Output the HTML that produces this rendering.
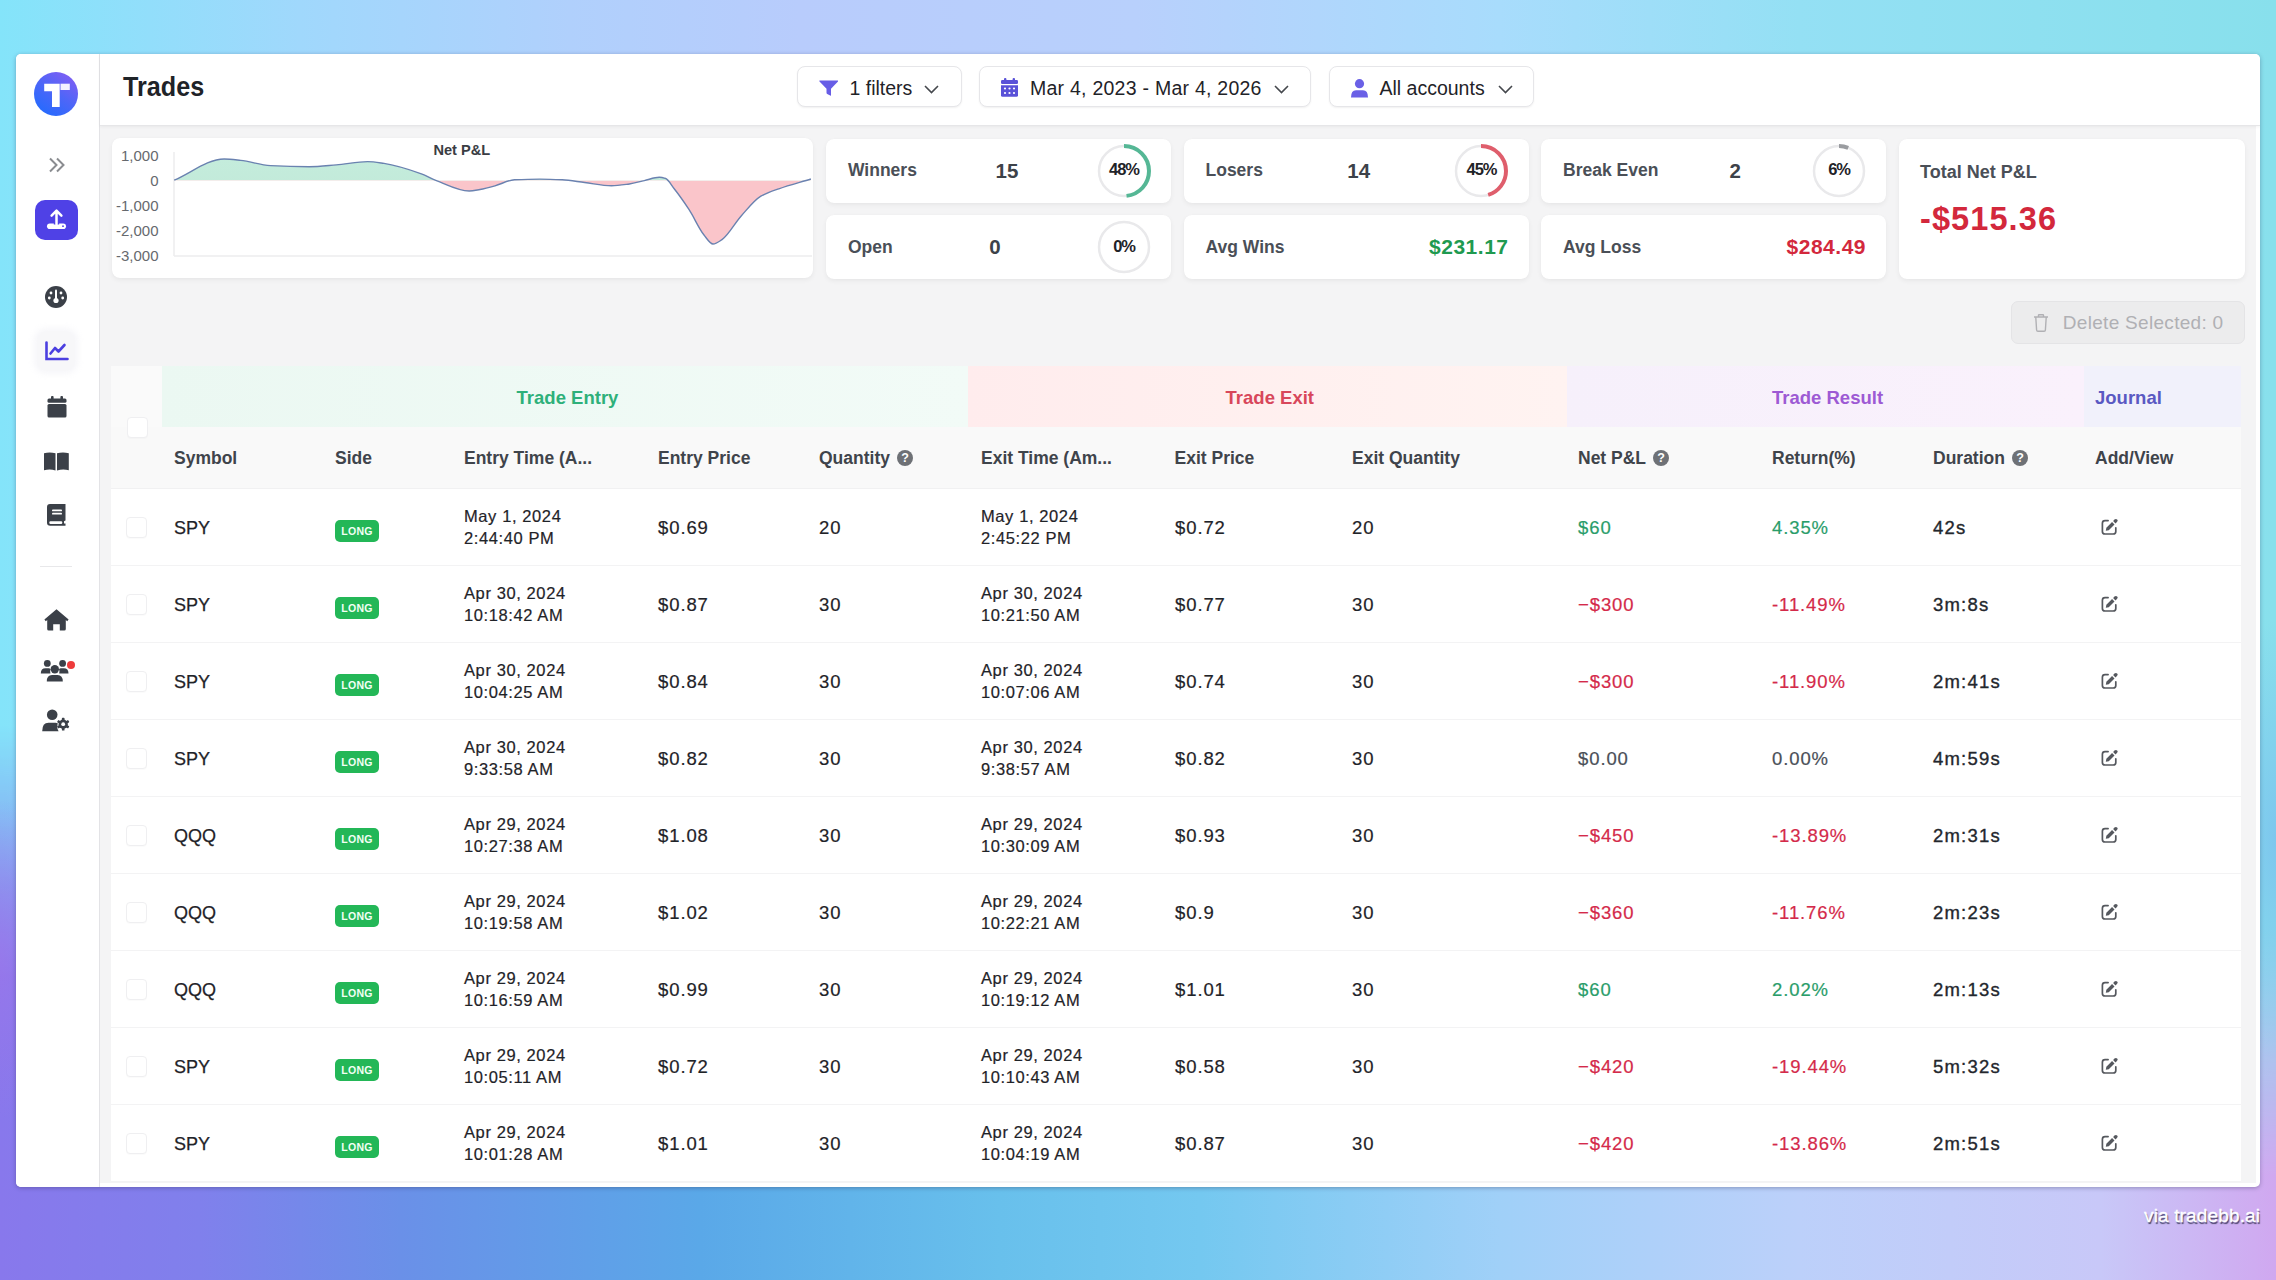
<!DOCTYPE html>
<html><head><meta charset="utf-8">
<style>
*{box-sizing:border-box;margin:0;padding:0}
html,body{width:2276px;height:1280px;overflow:hidden}
body{font-family:"Liberation Sans",sans-serif;color:#1f2328;position:relative;
background:linear-gradient(90deg,#84e4fa 0px,#a0d8fc 300px,#b0d0fc 570px,#b8ccfc 800px,#b8d0fc 1136px,#a8dcfc 1500px,#94e0f4 1800px,#88e0ec 2276px);}
#bg2{position:absolute;left:0;top:0;width:2276px;height:1280px;
background:linear-gradient(90deg,#8878ec 0px,#8080ec 200px,#6a90e8 400px,#5aa8e8 700px,#68c0ec 1000px,#74c8f0 1200px,#a0d0f8 1500px,#bcd0fa 1800px,#c8c8f8 2100px,#d0a8f0 2276px);
-webkit-mask-image:linear-gradient(185deg,rgba(0,0,0,0) 0%,rgba(0,0,0,0) 62.5%,rgba(0,0,0,1) 79.5%);}
#bg3{position:absolute;left:0;top:0;width:2276px;height:1280px;background:radial-gradient(ellipse 60px 220px at 2276px 840px,rgba(124,196,238,.9),rgba(124,196,238,0)),radial-gradient(ellipse 60px 160px at 0px 960px,rgba(156,118,234,.7),rgba(156,118,234,0));}
#win{position:absolute;left:16px;top:54px;width:2244px;height:1133px;background:#fff;border-radius:5px;overflow:hidden;
 box-shadow:0 1px 4px rgba(40,40,80,.35)}
#pg{position:absolute;left:-16px;top:-54px;width:2276px;height:1280px}
.a{position:absolute}
.card{position:absolute;background:#fff;border-radius:8px;box-shadow:0 2px 5px rgba(0,0,0,.055),0 0 1px rgba(0,0,0,.04)}
.c{position:absolute;transform:translateY(-50%);white-space:nowrap}
.sym{font-size:18px;line-height:22px;color:#1f2328;-webkit-text-stroke:.25px currentColor}
.dt{font-size:16.5px;line-height:22px;color:#1f2328;letter-spacing:.6px;-webkit-text-stroke:.2px currentColor}
.num{font-size:18.5px;line-height:22px;color:#1f2328;letter-spacing:.9px;-webkit-text-stroke:.2px currentColor}
.dur{color:#23272d;letter-spacing:1.2px;-webkit-text-stroke:.35px currentColor}
.cb{position:absolute;width:21px;height:21px;border:1px solid #efeff1;border-radius:4px;background:#fff;box-shadow:0 1px 1px rgba(0,0,0,.02)}
.long{position:absolute;width:44px;height:22px;border-radius:5px;background:#23b757;color:#f2fff4;font-size:10.5px;font-weight:bold;text-align:center;line-height:22px;letter-spacing:.3px}
.ed{position:absolute;width:17px;height:17px}
.rw{position:absolute;left:111px;width:2130px;height:77px;background:#fff;border-bottom:1px solid #f3f3f4}
.hb{position:absolute;height:41px;top:66px;border:1px solid #e6e6e9;border-radius:8px;background:#fff;box-shadow:0 1px 2px rgba(0,0,0,.06)}
.ht{position:absolute;transform:translateY(-50%);font-size:19.5px;white-space:nowrap;color:#1f2328;top:88.2px}
.lbl{position:absolute;transform:translateY(-50%);font-size:17.5px;font-weight:bold;color:#4a4f57;white-space:nowrap}
.val{position:absolute;transform:translateY(-50%);font-size:20.5px;font-weight:bold;color:#3d4249;white-space:nowrap}
.ring{position:absolute;width:54px;height:54px}
.ring span{position:absolute;left:0;right:0;top:50%;margin-top:-1.3px;transform:translateY(-50%);text-align:center;font-size:16.5px;font-weight:bold;color:#1f2328;letter-spacing:-1.1px}
.th{position:absolute;transform:translateY(-50%);font-size:17.5px;line-height:22px;font-weight:bold;color:#3f444b;white-space:nowrap;top:458.3px}
.gh{position:absolute;transform:translateY(-50%);font-size:18.5px;font-weight:bold;white-space:nowrap;top:397.5px}
.q{display:inline-block;width:16px;height:16px;border-radius:50%;background:#6e7176;color:#fff;font-size:12.5px;line-height:16px;text-align:center;vertical-align:2px;margin-left:7px;font-weight:bold}
svg{display:block}
.sc{width:345px;height:64px;display:flex;align-items:center;justify-content:space-between;padding:0 20px 0 22px}
.sc .lbl,.sc .val{position:static;transform:none}
.sc .ring{position:relative}
.big{font-size:21px;letter-spacing:.5px}
</style></head>
<body>
<div id="bg2"></div><div id="bg3"></div>
<div id="win"><div id="pg">
<!-- ================= SIDEBAR ================= -->
<div class="a" style="left:16px;top:54px;width:84px;height:1133px;background:#fff;border-right:1px solid #e3e3e6"></div>
<!-- logo -->
<div class="a" style="left:34px;top:71.5px;width:44px;height:44px;border-radius:50%;background:linear-gradient(35deg,#1a6cff 0%,#4c66f8 50%,#8c5cf2 100%)"></div>
<svg class="a" style="left:34px;top:71.5px" width="44" height="44" viewBox="0 0 44 44">
 <path d="M10.2 11.7H25.7V35.1H18V19.3H10.2z" fill="#fff"/>
 <rect x="26.5" y="11.7" width="9.3" height="6.3" fill="#f4f2ff"/>
</svg>
<!-- chevrons >> -->
<svg class="a" style="left:48px;top:157px" width="18" height="16" viewBox="0 0 18 16">
 <path d="M2 1.5l6.5 6.5L2 14.5M9 1.5l6.5 6.5L9 14.5" fill="none" stroke="#8a8c90" stroke-width="2"/>
</svg>
<!-- upload button -->
<div class="a" style="left:35px;top:200px;width:43px;height:40px;border-radius:10px;background:#4f41e6"></div>
<svg class="a" style="left:35px;top:200px" width="43" height="40" viewBox="0 0 43 40">
 <rect x="12" y="23.5" width="19" height="5.6" rx="2.8" fill="#fff"/>
 <path d="M21.5 17V24.6" stroke="#4f41e6" stroke-width="5.4"/>
 <path d="M16.6 15.6L21.5 10.7L26.4 15.6M21.5 11.2V24.3" fill="none" stroke="#fff" stroke-width="2.5" stroke-linecap="round" stroke-linejoin="round"/>
 <circle cx="28" cy="26.2" r="0.9" fill="#4f41e6"/>
</svg>
<!-- gauge -->
<svg class="a" style="left:45px;top:286px" width="22" height="22" viewBox="0 0 22 22">
 <circle cx="11" cy="11" r="11" fill="#3b4048"/>
 <circle cx="6" cy="7" r="1.4" fill="#fff"/><circle cx="16" cy="7" r="1.4" fill="#fff"/>
 <circle cx="4.3" cy="12" r="1.4" fill="#fff"/><circle cx="17.7" cy="12" r="1.4" fill="#fff"/>
 <rect x="10" y="3.5" width="2" height="10" rx="1" fill="#fff"/>
 <circle cx="11" cy="14.5" r="2.6" fill="#fff"/>
</svg>
<!-- chart active -->
<div class="a" style="left:37px;top:331px;width:38px;height:40px;border-radius:10px;background:#f7f7f9;box-shadow:0 0 6px 3px rgba(245,245,248,.9)"></div>
<svg class="a" style="left:44px;top:341px" width="25" height="20" viewBox="0 0 25 20">
 <path d="M2.5 1.5v16.5h21" fill="none" stroke="#4b3fe0" stroke-width="2.6" stroke-linecap="round"/>
 <path d="M6.5 12.5l4.5-5.5 3.5 3.5 6-6.5" fill="none" stroke="#4b3fe0" stroke-width="2.6" stroke-linecap="round" stroke-linejoin="round"/>
</svg>
<!-- calendar -->
<svg class="a" style="left:46.5px;top:395.5px" width="20" height="22" viewBox="0 0 20 22">
 <rect x="4" y="0" width="2.6" height="4" rx="1" fill="#3b4048"/><rect x="13.4" y="0" width="2.6" height="4" rx="1" fill="#3b4048"/>
 <rect x="0.5" y="2.5" width="19" height="4.2" rx="1.5" fill="#3b4048"/>
 <rect x="0.5" y="8" width="19" height="13.5" rx="1.5" fill="#3b4048"/>
</svg>
<!-- book open -->
<svg class="a" style="left:44px;top:451.5px" width="25" height="19" viewBox="0 0 25 19">
 <path d="M0 1.2Q5.5 -0.4 11.5 1.2V18.5Q6 16.5 0 18.3z" fill="#3b4048"/>
 <path d="M13 1.2Q19 -0.4 24.8 1.2V18.3Q19 16.5 13 18.5z" fill="#3b4048"/>
</svg>
<!-- book -->
<svg class="a" style="left:47px;top:504px" width="19" height="22" viewBox="0 0 19 22">
 <path d="M3 0H18.5V16.5L17 17.2V19.5H18.5V21.8H3.2Q0 21.8 0 18.6V3Q0 0 3 0z" fill="#3b4048"/>
 <rect x="5" y="5.5" width="10" height="1.8" rx=".9" fill="#fff"/>
 <rect x="5" y="8.8" width="10" height="1.8" rx=".9" fill="#fff"/>
 <rect x="2.3" y="17.3" width="13" height="2.6" rx="1.2" fill="#fff"/>
</svg>
<!-- divider -->
<div class="a" style="left:40px;top:566px;width:32px;height:1px;background:#e8e8ea"></div>
<!-- house -->
<svg class="a" style="left:44px;top:609px" width="25" height="22" viewBox="0 0 25 22">
 <path d="M12.5 0.3L24.6 10.6 23.2 12.2 21.8 11V20Q21.8 21.5 20.3 21.5H15.8V15.2H9.2V21.5H4.7Q3.2 21.5 3.2 20V11L1.8 12.2 0.4 10.6z" fill="#3b4048"/>
</svg>
<!-- users -->
<svg class="a" style="left:40px;top:658px" width="30" height="24" viewBox="0 0 30 24">
 <circle cx="7.3" cy="5.4" r="3.4" fill="#3b4048"/>
 <circle cx="22.6" cy="5.4" r="3.4" fill="#3b4048"/>
 <circle cx="14.8" cy="11.2" r="4.2" fill="#3b4048"/>
 <path d="M0.8 15.5Q0.8 10.2 5.5 10.2H8.8Q10 10.2 10.6 11.2 9.6 13.5 10.4 15.5z" fill="#3b4048"/>
 <path d="M28.5 15.5Q28.5 10.2 23.8 10.2H20.8Q19.6 10.2 19 11.2 20 13.5 19.2 15.5z" fill="#3b4048"/>
 <path d="M6.8 23.5Q6.8 17 12 17H17.6Q22.8 17 22.8 23.5z" fill="#3b4048"/>
</svg>
<div class="a" style="left:67px;top:660.5px;width:8px;height:8px;border-radius:50%;background:#ee3b3b"></div>
<!-- user gear -->
<svg class="a" style="left:41px;top:708px" width="29" height="24" viewBox="0 0 29 24">
 <circle cx="11.2" cy="6.8" r="5.3" fill="#3b4048"/>
 <path d="M1.2 23.2Q1.2 14.8 7.5 14.8H14.5Q15.8 14.8 16.8 15.2 15.5 19.8 17.6 23.2z" fill="#3b4048"/>
 <g transform="translate(22.2,16.2)">
  <circle r="4.6" fill="#3b4048"/>
  <g fill="#3b4048">
   <rect x="-1.3" y="-6.4" width="2.6" height="12.8" rx=".6"/>
   <rect x="-1.3" y="-6.4" width="2.6" height="12.8" rx=".6" transform="rotate(60)"/>
   <rect x="-1.3" y="-6.4" width="2.6" height="12.8" rx=".6" transform="rotate(120)"/>
  </g>
  <circle r="1.9" fill="#fff"/>
 </g>
</svg>

<div class="a" style="left:100px;top:126px;width:2156px;height:1056.5px;background:#f4f4f5"></div>
<!-- ================= HEADER ================= -->
<div class="a" style="left:100px;top:54px;width:2160px;height:72px;background:#fff;border-bottom:1px solid #e6e6e8;box-shadow:0 1px 3px rgba(0,0,0,.05)"></div>
<div class="c" style="left:122.5px;top:87px;font-size:27.5px;font-weight:bold;color:#1f2328;line-height:34px;transform:translateY(-50%) scaleX(.915);transform-origin:0 50%">Trades</div>

<div class="hb" style="left:796.5px;width:165px"></div>
<svg class="a" style="left:818.5px;top:79.8px" width="19.5" height="16" viewBox="0 0 19.5 16">
 <path d="M0.8 0.5H18.7Q19.6 0.5 19 1.5L12 8.8V15.2Q12 16 11.2 15.6L8.2 14Q7.5 13.6 7.5 12.8V8.8L0.5 1.5Q-0.1 0.5 0.8 0.5z" fill="#675de6"/>
</svg>
<div class="ht" style="left:849.5px">1 filters</div>
<svg class="a" style="left:924px;top:85px" width="15" height="9" viewBox="0 0 15 9"><path d="M1 1l6.5 6.5L14 1" fill="none" stroke="#45484d" stroke-width="1.6"/></svg>

<div class="hb" style="left:979px;width:332px"></div>
<svg class="a" style="left:1000.8px;top:78.4px" width="17" height="19" viewBox="0 0 17 19">
 <rect x="3" y="0" width="2.4" height="3.5" rx="1" fill="#5a52d8"/><rect x="11.6" y="0" width="2.4" height="3.5" rx="1" fill="#5a52d8"/>
 <rect x="0" y="2" width="17" height="4" rx="1.3" fill="#5a52d8"/>
 <path d="M0 7.3H17V17.2Q17 18.8 15.4 18.8H1.6Q0 18.8 0 17.2z" fill="#5a52d8"/>
 <g fill="#fff"><circle cx="4" cy="10.5" r="1.1"/><circle cx="8.5" cy="10.5" r="1.1"/><circle cx="13" cy="10.5" r="1.1"/>
 <circle cx="4" cy="15" r="1.1"/><circle cx="8.5" cy="15" r="1.1"/><circle cx="13" cy="15" r="1.1"/></g>
</svg>
<div class="ht" style="left:1030px;letter-spacing:.25px">Mar 4, 2023 - Mar 4, 2026</div>
<svg class="a" style="left:1273.5px;top:85px" width="15" height="9" viewBox="0 0 15 9"><path d="M1 1l6.5 6.5L14 1" fill="none" stroke="#45484d" stroke-width="1.6"/></svg>

<div class="hb" style="left:1329px;width:204.5px"></div>
<svg class="a" style="left:1350.5px;top:78.8px" width="17" height="19" viewBox="0 0 17 19">
 <circle cx="8.5" cy="4.7" r="4.6" fill="#6a60e6"/>
 <path d="M0 18.5Q0 11.2 5 11.2H12Q17 11.2 17 18.5z" fill="#6a60e6"/>
</svg>
<div class="ht" style="left:1379.5px">All accounts</div>
<svg class="a" style="left:1497.5px;top:85px" width="15" height="9" viewBox="0 0 15 9"><path d="M1 1l6.5 6.5L14 1" fill="none" stroke="#45484d" stroke-width="1.6"/></svg>

<!-- ================= MAIN ================= -->
<!-- chart card -->
<div class="card" style="left:112px;top:138px;width:701px;height:140px"></div>
<div class="a" style="left:100px;top:0;width:58.5px;text-align:right;font-size:15px;color:#66696e">
 <div class="c" style="right:0;top:155px">1,000</div>
 <div class="c" style="right:0;top:180px">0</div>
 <div class="c" style="right:0;top:205px">-1,000</div>
 <div class="c" style="right:0;top:230px">-2,000</div>
 <div class="c" style="right:0;top:255px">-3,000</div>
</div>
<svg class="a" style="left:0;top:0" width="2276" height="300" viewBox="0 0 2276 300">
 <defs>
  <clipPath id="cpos"><rect x="170" y="140" width="650" height="40.400000000000006"/></clipPath>
  <clipPath id="cneg"><rect x="170" y="180.4" width="650" height="100"/></clipPath>
  <linearGradient id="gpos" x1="0" y1="0" x2="0" y2="1"><stop offset="0" stop-color="#c4ecdc"/><stop offset="1" stop-color="#bfe6d4"/></linearGradient>
 </defs>
 <line x1="174" y1="152" x2="174" y2="256" stroke="#ececee" stroke-width="1.5"/>
 <line x1="174" y1="256" x2="812" y2="256" stroke="#ececee" stroke-width="1.5"/>
 <path d="M174.2 180.2 C190.9 173.1 207.5 159.0 224.2 159.0 C229.7 159.0 235.2 159.8 240.7 160.4 C250.6 161.5 260.6 165.1 270.5 165.6 C283.5 166.3 296.4 166.7 309.4 166.7 C318.4 166.7 327.3 165.6 336.3 164.9 C346.7 164.1 357.2 161.6 367.6 161.6 C373.1 161.6 378.5 162.6 384.0 163.4 C396.5 165.3 408.9 169.4 421.4 173.8 C426.4 175.6 431.4 178.7 436.4 180.6 C447.3 184.8 458.3 191.0 469.2 191.0 C472.8 191.0 476.4 190.1 480.0 189.5 C485.0 188.6 490.0 187.2 495.0 185.8 C501.5 184.0 507.9 180.1 514.4 179.8 C522.9 179.4 531.3 179.1 539.8 179.1 C547.3 179.1 554.7 179.4 562.2 179.8 C569.7 180.2 577.1 181.6 584.6 182.5 C593.6 183.6 602.5 185.8 611.5 185.8 C617.5 185.8 623.4 184.8 629.4 184.0 C634.4 183.3 639.3 181.7 644.3 180.6 C649.3 179.5 654.3 177.3 659.3 177.3 C661.3 177.3 663.2 177.7 665.2 178.3 C668.2 179.1 671.2 185.0 674.2 188.8 C679.2 195.1 684.1 202.1 689.1 209.7 C694.1 217.3 699.0 228.9 704.0 235.0 C707.0 238.7 710.0 244.0 713.0 244.0 C716.0 244.0 719.0 241.6 722.0 239.6 C728.5 235.3 734.9 222.8 741.4 215.7 C747.9 208.5 754.4 200.0 760.9 196.2 C766.9 192.7 772.8 190.9 778.8 188.8 C789.5 185.0 800.2 182.3 810.9 179.0 L810.9 180.4 L174.2 180.4 Z" fill="url(#gpos)" clip-path="url(#cpos)"/>
 <path d="M174.2 180.2 C190.9 173.1 207.5 159.0 224.2 159.0 C229.7 159.0 235.2 159.8 240.7 160.4 C250.6 161.5 260.6 165.1 270.5 165.6 C283.5 166.3 296.4 166.7 309.4 166.7 C318.4 166.7 327.3 165.6 336.3 164.9 C346.7 164.1 357.2 161.6 367.6 161.6 C373.1 161.6 378.5 162.6 384.0 163.4 C396.5 165.3 408.9 169.4 421.4 173.8 C426.4 175.6 431.4 178.7 436.4 180.6 C447.3 184.8 458.3 191.0 469.2 191.0 C472.8 191.0 476.4 190.1 480.0 189.5 C485.0 188.6 490.0 187.2 495.0 185.8 C501.5 184.0 507.9 180.1 514.4 179.8 C522.9 179.4 531.3 179.1 539.8 179.1 C547.3 179.1 554.7 179.4 562.2 179.8 C569.7 180.2 577.1 181.6 584.6 182.5 C593.6 183.6 602.5 185.8 611.5 185.8 C617.5 185.8 623.4 184.8 629.4 184.0 C634.4 183.3 639.3 181.7 644.3 180.6 C649.3 179.5 654.3 177.3 659.3 177.3 C661.3 177.3 663.2 177.7 665.2 178.3 C668.2 179.1 671.2 185.0 674.2 188.8 C679.2 195.1 684.1 202.1 689.1 209.7 C694.1 217.3 699.0 228.9 704.0 235.0 C707.0 238.7 710.0 244.0 713.0 244.0 C716.0 244.0 719.0 241.6 722.0 239.6 C728.5 235.3 734.9 222.8 741.4 215.7 C747.9 208.5 754.4 200.0 760.9 196.2 C766.9 192.7 772.8 190.9 778.8 188.8 C789.5 185.0 800.2 182.3 810.9 179.0 L810.9 180.4 L174.2 180.4 Z" fill="#fac5ca" clip-path="url(#cneg)"/>
 <path d="M174.2 180.2 C190.9 173.1 207.5 159.0 224.2 159.0 C229.7 159.0 235.2 159.8 240.7 160.4 C250.6 161.5 260.6 165.1 270.5 165.6 C283.5 166.3 296.4 166.7 309.4 166.7 C318.4 166.7 327.3 165.6 336.3 164.9 C346.7 164.1 357.2 161.6 367.6 161.6 C373.1 161.6 378.5 162.6 384.0 163.4 C396.5 165.3 408.9 169.4 421.4 173.8 C426.4 175.6 431.4 178.7 436.4 180.6 C447.3 184.8 458.3 191.0 469.2 191.0 C472.8 191.0 476.4 190.1 480.0 189.5 C485.0 188.6 490.0 187.2 495.0 185.8 C501.5 184.0 507.9 180.1 514.4 179.8 C522.9 179.4 531.3 179.1 539.8 179.1 C547.3 179.1 554.7 179.4 562.2 179.8 C569.7 180.2 577.1 181.6 584.6 182.5 C593.6 183.6 602.5 185.8 611.5 185.8 C617.5 185.8 623.4 184.8 629.4 184.0 C634.4 183.3 639.3 181.7 644.3 180.6 C649.3 179.5 654.3 177.3 659.3 177.3 C661.3 177.3 663.2 177.7 665.2 178.3 C668.2 179.1 671.2 185.0 674.2 188.8 C679.2 195.1 684.1 202.1 689.1 209.7 C694.1 217.3 699.0 228.9 704.0 235.0 C707.0 238.7 710.0 244.0 713.0 244.0 C716.0 244.0 719.0 241.6 722.0 239.6 C728.5 235.3 734.9 222.8 741.4 215.7 C747.9 208.5 754.4 200.0 760.9 196.2 C766.9 192.7 772.8 190.9 778.8 188.8 C789.5 185.0 800.2 182.3 810.9 179.0" fill="none" stroke="#6a82b0" stroke-width="1.4"/>
</svg>
<div class="c" style="left:433.4px;top:149.5px;font-size:14.6px;font-weight:bold;color:#3a3d44">Net P&amp;L</div>

<!-- stat cards -->
<div class="card sc" style="left:826px;top:138.5px"><span class="lbl">Winners</span><span class="val">15</span>
 <div class="ring"><svg width="54" height="54" viewBox="0 0 54 54"><circle cx="27" cy="27" r="25" fill="none" stroke="#e9e9eb" stroke-width="2.5"/><circle cx="27" cy="27" r="25" fill="none" stroke="#55b795" stroke-width="4" stroke-dasharray="75.4 200" transform="rotate(-90 27 27)"/></svg><span>48%</span></div></div>
<div class="card sc" style="left:826px;top:215px"><span class="lbl">Open</span><span class="val">0</span>
 <div class="ring"><svg width="54" height="54" viewBox="0 0 54 54"><circle cx="27" cy="27" r="25" fill="none" stroke="#e9e9eb" stroke-width="2.5"/></svg><span>0%</span></div></div>

<div class="card sc" style="left:1183.5px;top:138.5px"><span class="lbl">Losers</span><span class="val">14</span>
 <div class="ring"><svg width="54" height="54" viewBox="0 0 54 54"><circle cx="27" cy="27" r="25" fill="none" stroke="#e9e9eb" stroke-width="2.5"/><circle cx="27" cy="27" r="25" fill="none" stroke="#df5e6c" stroke-width="4" stroke-dasharray="70.7 200" transform="rotate(-90 27 27)"/></svg><span>45%</span></div></div>
<div class="card sc" style="left:1183.5px;top:215px"><span class="lbl">Avg Wins</span><span class="val big" style="color:#1f9a50">$231.17</span></div>

<div class="card sc" style="left:1541px;top:138.5px"><span class="lbl">Break Even</span><span class="val">2</span>
 <div class="ring"><svg width="54" height="54" viewBox="0 0 54 54"><circle cx="27" cy="27" r="25" fill="none" stroke="#e9e9eb" stroke-width="2.5"/><circle cx="27" cy="27" r="25" fill="none" stroke="#9a9ca0" stroke-width="4" stroke-dasharray="9.4 200" transform="rotate(-90 27 27)"/></svg><span>6%</span></div></div>
<div class="card sc" style="left:1541px;top:215px"><span class="lbl">Avg Loss</span><span class="val big" style="color:#d3283c">$284.49</span></div>

<div class="card" style="left:1898.5px;top:138.5px;width:346px;height:140px"></div>
<div class="c" style="left:1920px;top:172px;font-size:18px;font-weight:bold;color:#4a4f57">Total Net P&amp;L</div>
<div class="c" style="left:1920px;top:218.5px;font-size:32.5px;font-weight:bold;color:#d3283c;line-height:38px;letter-spacing:1.1px">-$515.36</div>

<!-- delete selected -->
<div class="a" style="left:2011px;top:301.4px;width:233.5px;height:43px;border-radius:7px;background:#ececed;border:1px solid #e4e4e6"></div>
<svg class="a" style="left:2033px;top:314px" width="16" height="18" viewBox="0 0 16 18">
 <path d="M5.5 2.5V1.3Q5.5 0.7 6.1 0.7H9.9Q10.5 0.7 10.5 1.3V2.5M1 3H15M2.8 3.5L3.6 16Q3.7 17.2 4.9 17.2H11.1Q12.3 17.2 12.4 16L13.2 3.5" fill="none" stroke="#b0b0b4" stroke-width="1.4"/>
</svg>
<div class="c" style="left:2062.8px;top:322.7px;font-size:19px;color:#b0b0b4;letter-spacing:.3px">Delete Selected: 0</div>

<!-- table header -->
<div class="a" style="left:111px;top:366px;width:2130px;height:123px;background:#f9f9f9;border-bottom:1px solid #f1f1f2"></div>
<div class="a" style="left:111px;top:366px;width:51px;height:61px;background:#fafafa"></div>
<div class="a" style="left:162px;top:366px;width:806px;height:61px;background:linear-gradient(90deg,#ebf8f2,#f2fbf7)"></div>
<div class="a" style="left:968px;top:366px;width:599px;height:61px;background:linear-gradient(90deg,#ffeced,#fff3f1)"></div>
<div class="a" style="left:1567px;top:366px;width:517px;height:61px;background:linear-gradient(90deg,#f6f0fb,#faf1fc)"></div>
<div class="a" style="left:2084px;top:366px;width:157px;height:61px;background:#f1f1fb"></div>
<div class="gh" style="left:516.6px;color:#2eb07a">Trade Entry</div>
<div class="gh" style="left:1225.6px;color:#d8475b">Trade Exit</div>
<div class="gh" style="left:1772px;color:#9d5ad4">Trade Result</div>
<div class="gh" style="left:2095px;color:#5a59c2">Journal</div>
<div class="cb" style="left:126.5px;top:416.5px"></div>
<div class="th" style="left:174px">Symbol</div>
<div class="th" style="left:335px">Side</div>
<div class="th" style="left:464px">Entry Time (A...</div>
<div class="th" style="left:658px">Entry Price</div>
<div class="th" style="left:819px">Quantity<span class="q">?</span></div>
<div class="th" style="left:981px">Exit Time (Am...</div>
<div class="th" style="left:1174.5px">Exit Price</div>
<div class="th" style="left:1352px">Exit Quantity</div>
<div class="th" style="left:1578px">Net P&amp;L<span class="q">?</span></div>
<div class="th" style="left:1772px">Return(%)</div>
<div class="th" style="left:1933px">Duration<span class="q">?</span></div>
<div class="th" style="left:2095px">Add/View</div>

<!-- via -->

<div class="rw" style="top:489px"></div>
<div class="cb" style="left:126px;top:517.0px"></div>
<div class="c sym" style="left:174px;top:527.5px;">SPY</div>
<div class="long" style="left:335px;top:519.5px">LONG</div>
<div class="c dt" style="left:464px;top:527.5px;margin-top:-1px">May 1, 2024<br>2:44:40 PM</div>
<div class="c num" style="left:658px;top:527.5px;">$0.69</div>
<div class="c num" style="left:819px;top:527.5px;">20</div>
<div class="c dt" style="left:981px;top:527.5px;margin-top:-1px">May 1, 2024<br>2:45:22 PM</div>
<div class="c num" style="left:1175px;top:527.5px;">$0.72</div>
<div class="c num" style="left:1352px;top:527.5px;">20</div>
<div class="c num" style="left:1578px;top:527.5px;color:#2a9d6a">$60</div>
<div class="c num" style="left:1772px;top:527.5px;color:#2a9d6a">4.35%</div>
<div class="c num dur" style="left:1933px;top:527.5px;">42s</div>
<div class="ed" style="left:2101px;top:517.7px"><svg width="18" height="18" viewBox="0 0 18 18"><path d="M7.1 2.6H4Q1.4 2.6 1.4 5.2V13.4Q1.4 16 4 16H12.2Q14.8 16 14.8 13.4V9.8" fill="none" stroke="#55585e" stroke-width="1.7" stroke-linecap="round"/><path d="M4.8 12.7L5.36 9.74L11.09 4.01L13.49 6.41L7.76 12.14Z" fill="#55585e"/><path d="M13.3 4.2L14.9 2.6" stroke="#55585e" stroke-width="3.4"/><circle cx="14.9" cy="2.6" r="1.7" fill="#55585e"/></svg></div>
<div class="rw" style="top:566px"></div>
<div class="cb" style="left:126px;top:594.0px"></div>
<div class="c sym" style="left:174px;top:604.5px;">SPY</div>
<div class="long" style="left:335px;top:596.5px">LONG</div>
<div class="c dt" style="left:464px;top:604.5px;margin-top:-1px">Apr 30, 2024<br>10:18:42 AM</div>
<div class="c num" style="left:658px;top:604.5px;">$0.87</div>
<div class="c num" style="left:819px;top:604.5px;">30</div>
<div class="c dt" style="left:981px;top:604.5px;margin-top:-1px">Apr 30, 2024<br>10:21:50 AM</div>
<div class="c num" style="left:1175px;top:604.5px;">$0.77</div>
<div class="c num" style="left:1352px;top:604.5px;">30</div>
<div class="c num" style="left:1578px;top:604.5px;color:#d42a4a">&#8722;$300</div>
<div class="c num" style="left:1772px;top:604.5px;color:#d42a4a">-11.49%</div>
<div class="c num dur" style="left:1933px;top:604.5px;">3m:8s</div>
<div class="ed" style="left:2101px;top:594.7px"><svg width="18" height="18" viewBox="0 0 18 18"><path d="M7.1 2.6H4Q1.4 2.6 1.4 5.2V13.4Q1.4 16 4 16H12.2Q14.8 16 14.8 13.4V9.8" fill="none" stroke="#55585e" stroke-width="1.7" stroke-linecap="round"/><path d="M4.8 12.7L5.36 9.74L11.09 4.01L13.49 6.41L7.76 12.14Z" fill="#55585e"/><path d="M13.3 4.2L14.9 2.6" stroke="#55585e" stroke-width="3.4"/><circle cx="14.9" cy="2.6" r="1.7" fill="#55585e"/></svg></div>
<div class="rw" style="top:643px"></div>
<div class="cb" style="left:126px;top:671.0px"></div>
<div class="c sym" style="left:174px;top:681.5px;">SPY</div>
<div class="long" style="left:335px;top:673.5px">LONG</div>
<div class="c dt" style="left:464px;top:681.5px;margin-top:-1px">Apr 30, 2024<br>10:04:25 AM</div>
<div class="c num" style="left:658px;top:681.5px;">$0.84</div>
<div class="c num" style="left:819px;top:681.5px;">30</div>
<div class="c dt" style="left:981px;top:681.5px;margin-top:-1px">Apr 30, 2024<br>10:07:06 AM</div>
<div class="c num" style="left:1175px;top:681.5px;">$0.74</div>
<div class="c num" style="left:1352px;top:681.5px;">30</div>
<div class="c num" style="left:1578px;top:681.5px;color:#d42a4a">&#8722;$300</div>
<div class="c num" style="left:1772px;top:681.5px;color:#d42a4a">-11.90%</div>
<div class="c num dur" style="left:1933px;top:681.5px;">2m:41s</div>
<div class="ed" style="left:2101px;top:671.7px"><svg width="18" height="18" viewBox="0 0 18 18"><path d="M7.1 2.6H4Q1.4 2.6 1.4 5.2V13.4Q1.4 16 4 16H12.2Q14.8 16 14.8 13.4V9.8" fill="none" stroke="#55585e" stroke-width="1.7" stroke-linecap="round"/><path d="M4.8 12.7L5.36 9.74L11.09 4.01L13.49 6.41L7.76 12.14Z" fill="#55585e"/><path d="M13.3 4.2L14.9 2.6" stroke="#55585e" stroke-width="3.4"/><circle cx="14.9" cy="2.6" r="1.7" fill="#55585e"/></svg></div>
<div class="rw" style="top:720px"></div>
<div class="cb" style="left:126px;top:748.0px"></div>
<div class="c sym" style="left:174px;top:758.5px;">SPY</div>
<div class="long" style="left:335px;top:750.5px">LONG</div>
<div class="c dt" style="left:464px;top:758.5px;margin-top:-1px">Apr 30, 2024<br>9:33:58 AM</div>
<div class="c num" style="left:658px;top:758.5px;">$0.82</div>
<div class="c num" style="left:819px;top:758.5px;">30</div>
<div class="c dt" style="left:981px;top:758.5px;margin-top:-1px">Apr 30, 2024<br>9:38:57 AM</div>
<div class="c num" style="left:1175px;top:758.5px;">$0.82</div>
<div class="c num" style="left:1352px;top:758.5px;">30</div>
<div class="c num" style="left:1578px;top:758.5px;color:#4a4f57">$0.00</div>
<div class="c num" style="left:1772px;top:758.5px;color:#4a4f57">0.00%</div>
<div class="c num dur" style="left:1933px;top:758.5px;">4m:59s</div>
<div class="ed" style="left:2101px;top:748.7px"><svg width="18" height="18" viewBox="0 0 18 18"><path d="M7.1 2.6H4Q1.4 2.6 1.4 5.2V13.4Q1.4 16 4 16H12.2Q14.8 16 14.8 13.4V9.8" fill="none" stroke="#55585e" stroke-width="1.7" stroke-linecap="round"/><path d="M4.8 12.7L5.36 9.74L11.09 4.01L13.49 6.41L7.76 12.14Z" fill="#55585e"/><path d="M13.3 4.2L14.9 2.6" stroke="#55585e" stroke-width="3.4"/><circle cx="14.9" cy="2.6" r="1.7" fill="#55585e"/></svg></div>
<div class="rw" style="top:797px"></div>
<div class="cb" style="left:126px;top:825.0px"></div>
<div class="c sym" style="left:174px;top:835.5px;">QQQ</div>
<div class="long" style="left:335px;top:827.5px">LONG</div>
<div class="c dt" style="left:464px;top:835.5px;margin-top:-1px">Apr 29, 2024<br>10:27:38 AM</div>
<div class="c num" style="left:658px;top:835.5px;">$1.08</div>
<div class="c num" style="left:819px;top:835.5px;">30</div>
<div class="c dt" style="left:981px;top:835.5px;margin-top:-1px">Apr 29, 2024<br>10:30:09 AM</div>
<div class="c num" style="left:1175px;top:835.5px;">$0.93</div>
<div class="c num" style="left:1352px;top:835.5px;">30</div>
<div class="c num" style="left:1578px;top:835.5px;color:#d42a4a">&#8722;$450</div>
<div class="c num" style="left:1772px;top:835.5px;color:#d42a4a">-13.89%</div>
<div class="c num dur" style="left:1933px;top:835.5px;">2m:31s</div>
<div class="ed" style="left:2101px;top:825.7px"><svg width="18" height="18" viewBox="0 0 18 18"><path d="M7.1 2.6H4Q1.4 2.6 1.4 5.2V13.4Q1.4 16 4 16H12.2Q14.8 16 14.8 13.4V9.8" fill="none" stroke="#55585e" stroke-width="1.7" stroke-linecap="round"/><path d="M4.8 12.7L5.36 9.74L11.09 4.01L13.49 6.41L7.76 12.14Z" fill="#55585e"/><path d="M13.3 4.2L14.9 2.6" stroke="#55585e" stroke-width="3.4"/><circle cx="14.9" cy="2.6" r="1.7" fill="#55585e"/></svg></div>
<div class="rw" style="top:874px"></div>
<div class="cb" style="left:126px;top:902.0px"></div>
<div class="c sym" style="left:174px;top:912.5px;">QQQ</div>
<div class="long" style="left:335px;top:904.5px">LONG</div>
<div class="c dt" style="left:464px;top:912.5px;margin-top:-1px">Apr 29, 2024<br>10:19:58 AM</div>
<div class="c num" style="left:658px;top:912.5px;">$1.02</div>
<div class="c num" style="left:819px;top:912.5px;">30</div>
<div class="c dt" style="left:981px;top:912.5px;margin-top:-1px">Apr 29, 2024<br>10:22:21 AM</div>
<div class="c num" style="left:1175px;top:912.5px;">$0.9</div>
<div class="c num" style="left:1352px;top:912.5px;">30</div>
<div class="c num" style="left:1578px;top:912.5px;color:#d42a4a">&#8722;$360</div>
<div class="c num" style="left:1772px;top:912.5px;color:#d42a4a">-11.76%</div>
<div class="c num dur" style="left:1933px;top:912.5px;">2m:23s</div>
<div class="ed" style="left:2101px;top:902.7px"><svg width="18" height="18" viewBox="0 0 18 18"><path d="M7.1 2.6H4Q1.4 2.6 1.4 5.2V13.4Q1.4 16 4 16H12.2Q14.8 16 14.8 13.4V9.8" fill="none" stroke="#55585e" stroke-width="1.7" stroke-linecap="round"/><path d="M4.8 12.7L5.36 9.74L11.09 4.01L13.49 6.41L7.76 12.14Z" fill="#55585e"/><path d="M13.3 4.2L14.9 2.6" stroke="#55585e" stroke-width="3.4"/><circle cx="14.9" cy="2.6" r="1.7" fill="#55585e"/></svg></div>
<div class="rw" style="top:951px"></div>
<div class="cb" style="left:126px;top:979.0px"></div>
<div class="c sym" style="left:174px;top:989.5px;">QQQ</div>
<div class="long" style="left:335px;top:981.5px">LONG</div>
<div class="c dt" style="left:464px;top:989.5px;margin-top:-1px">Apr 29, 2024<br>10:16:59 AM</div>
<div class="c num" style="left:658px;top:989.5px;">$0.99</div>
<div class="c num" style="left:819px;top:989.5px;">30</div>
<div class="c dt" style="left:981px;top:989.5px;margin-top:-1px">Apr 29, 2024<br>10:19:12 AM</div>
<div class="c num" style="left:1175px;top:989.5px;">$1.01</div>
<div class="c num" style="left:1352px;top:989.5px;">30</div>
<div class="c num" style="left:1578px;top:989.5px;color:#2a9d6a">$60</div>
<div class="c num" style="left:1772px;top:989.5px;color:#2a9d6a">2.02%</div>
<div class="c num dur" style="left:1933px;top:989.5px;">2m:13s</div>
<div class="ed" style="left:2101px;top:979.7px"><svg width="18" height="18" viewBox="0 0 18 18"><path d="M7.1 2.6H4Q1.4 2.6 1.4 5.2V13.4Q1.4 16 4 16H12.2Q14.8 16 14.8 13.4V9.8" fill="none" stroke="#55585e" stroke-width="1.7" stroke-linecap="round"/><path d="M4.8 12.7L5.36 9.74L11.09 4.01L13.49 6.41L7.76 12.14Z" fill="#55585e"/><path d="M13.3 4.2L14.9 2.6" stroke="#55585e" stroke-width="3.4"/><circle cx="14.9" cy="2.6" r="1.7" fill="#55585e"/></svg></div>
<div class="rw" style="top:1028px"></div>
<div class="cb" style="left:126px;top:1056.0px"></div>
<div class="c sym" style="left:174px;top:1066.5px;">SPY</div>
<div class="long" style="left:335px;top:1058.5px">LONG</div>
<div class="c dt" style="left:464px;top:1066.5px;margin-top:-1px">Apr 29, 2024<br>10:05:11 AM</div>
<div class="c num" style="left:658px;top:1066.5px;">$0.72</div>
<div class="c num" style="left:819px;top:1066.5px;">30</div>
<div class="c dt" style="left:981px;top:1066.5px;margin-top:-1px">Apr 29, 2024<br>10:10:43 AM</div>
<div class="c num" style="left:1175px;top:1066.5px;">$0.58</div>
<div class="c num" style="left:1352px;top:1066.5px;">30</div>
<div class="c num" style="left:1578px;top:1066.5px;color:#d42a4a">&#8722;$420</div>
<div class="c num" style="left:1772px;top:1066.5px;color:#d42a4a">-19.44%</div>
<div class="c num dur" style="left:1933px;top:1066.5px;">5m:32s</div>
<div class="ed" style="left:2101px;top:1056.7px"><svg width="18" height="18" viewBox="0 0 18 18"><path d="M7.1 2.6H4Q1.4 2.6 1.4 5.2V13.4Q1.4 16 4 16H12.2Q14.8 16 14.8 13.4V9.8" fill="none" stroke="#55585e" stroke-width="1.7" stroke-linecap="round"/><path d="M4.8 12.7L5.36 9.74L11.09 4.01L13.49 6.41L7.76 12.14Z" fill="#55585e"/><path d="M13.3 4.2L14.9 2.6" stroke="#55585e" stroke-width="3.4"/><circle cx="14.9" cy="2.6" r="1.7" fill="#55585e"/></svg></div>
<div class="rw" style="top:1105px"></div>
<div class="cb" style="left:126px;top:1133.0px"></div>
<div class="c sym" style="left:174px;top:1143.5px;">SPY</div>
<div class="long" style="left:335px;top:1135.5px">LONG</div>
<div class="c dt" style="left:464px;top:1143.5px;margin-top:-1px">Apr 29, 2024<br>10:01:28 AM</div>
<div class="c num" style="left:658px;top:1143.5px;">$1.01</div>
<div class="c num" style="left:819px;top:1143.5px;">30</div>
<div class="c dt" style="left:981px;top:1143.5px;margin-top:-1px">Apr 29, 2024<br>10:04:19 AM</div>
<div class="c num" style="left:1175px;top:1143.5px;">$0.87</div>
<div class="c num" style="left:1352px;top:1143.5px;">30</div>
<div class="c num" style="left:1578px;top:1143.5px;color:#d42a4a">&#8722;$420</div>
<div class="c num" style="left:1772px;top:1143.5px;color:#d42a4a">-13.86%</div>
<div class="c num dur" style="left:1933px;top:1143.5px;">2m:51s</div>
<div class="ed" style="left:2101px;top:1133.7px"><svg width="18" height="18" viewBox="0 0 18 18"><path d="M7.1 2.6H4Q1.4 2.6 1.4 5.2V13.4Q1.4 16 4 16H12.2Q14.8 16 14.8 13.4V9.8" fill="none" stroke="#55585e" stroke-width="1.7" stroke-linecap="round"/><path d="M4.8 12.7L5.36 9.74L11.09 4.01L13.49 6.41L7.76 12.14Z" fill="#55585e"/><path d="M13.3 4.2L14.9 2.6" stroke="#55585e" stroke-width="3.4"/><circle cx="14.9" cy="2.6" r="1.7" fill="#55585e"/></svg></div>
</div></div>
<div class="c" style="left:2144px;top:1215.5px;font-size:19px;color:#fff;letter-spacing:.15px;-webkit-text-stroke:.3px #fff;text-shadow:1px 1.5px 1px rgba(40,40,70,.8)">via tradebb.ai</div>
</body></html>
